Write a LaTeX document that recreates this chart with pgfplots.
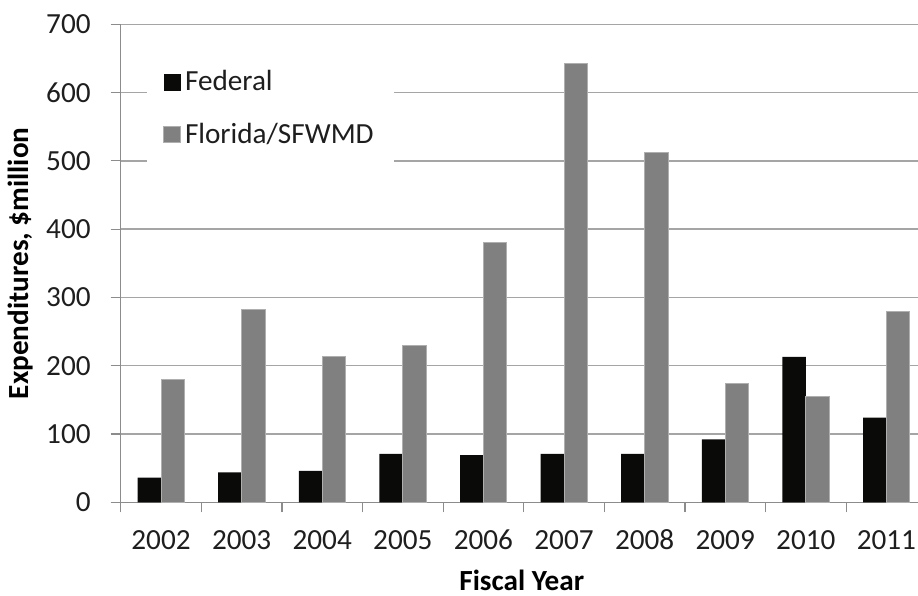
\documentclass[border=0pt]{standalone}
\usepackage{pgfplots}
\pgfplotsset{compat=1.18}
\usepackage{fontspec}
\setmainfont{Carlito}
\newcommand\f{\fontsize{14.6pt}{17pt}\selectfont}
\definecolor{fedc}{RGB}{10,10,8}
\definecolor{flc}{RGB}{128,128,128}
\definecolor{gridc}{RGB}{165,165,165}
\definecolor{axc}{RGB}{140,140,140}
\definecolor{txtc}{RGB}{30,30,30}
\begin{document}
\begin{tikzpicture}
\begin{axis}[
  scale only axis,
  width=398.65pt, height=239pt,
  xmin=-0.5, xmax=9.392,
  ymin=0, ymax=700,
  enlargelimits=false,
  axis x line=bottom, axis y line=left,
  axis line style={-, draw=axc, line width=0.6pt},
  ytick={0,100,...,700},
  ymajorgrids,
  major grid style={draw=gridc, line width=0.7pt},
  tick align=outside,
  major tick length=5pt,
  minor tick length=5pt,
  every tick/.style={draw=axc, line width=0.6pt},
  xtick={0,...,9},
  xticklabels={2002,2003,2004,2005,2006,2007,2008,2009,2010,2011},
  major x tick style={draw=none},
  minor xtick={-0.5,0.5,...,8.5},
  x tick label style={font=\f, text=txtc, anchor=base, yshift=-18.5pt},
  y tick label style={font=\f, text=txtc, xshift=-6.5pt},
  /pgf/number format/assume math mode=true,
  xlabel={\textbf{Fiscal Year}},
  ylabel={\textbf{Expenditures, \$million}},
  every axis x label/.style={at={(axis description cs:0.503,-0.1626)}, anchor=center, font=\f, text=black},
  every axis y label/.style={at={(axis description cs:-0.1254,0.5)}, anchor=center, rotate=90, font=\f, text=black},
  legend style={at={(0.033,0.967)}, anchor=north west, fill=white, draw=none,
    inner xsep=8pt, inner ysep=13pt, row sep=10.5pt, font=\f, text=txtc, legend cell align=left},
  legend image code/.code={\fill[#1] (0pt,-4.2pt) rectangle (8.4pt,4.2pt);},
]
\addplot[ybar, bar width=0.29, bar shift=-0.145, fill=fedc, draw=none] coordinates {
(0,36) (1,44) (2,46) (3,71) (4,69) (5,71) (6,71) (7,92) (8,213) (9,124)};
\addplot[ybar, bar width=0.29, bar shift=0.145, fill=flc, draw={rgb,255:red,175;green,175;blue,175}, line width=0.4pt] coordinates {
(0,180) (1,283) (2,213) (3,230) (4,380) (5,643) (6,512) (7,174) (8,155) (9,279)};
\legend{Federal, Florida/SFWMD}
\end{axis}
\pgfresetboundingbox
\path[use as bounding box] ([xshift=-60.35pt, yshift=-46.85pt]current axis.south west) rectangle ([yshift=12.15pt]current axis.north east);
\end{tikzpicture}
\end{document}
